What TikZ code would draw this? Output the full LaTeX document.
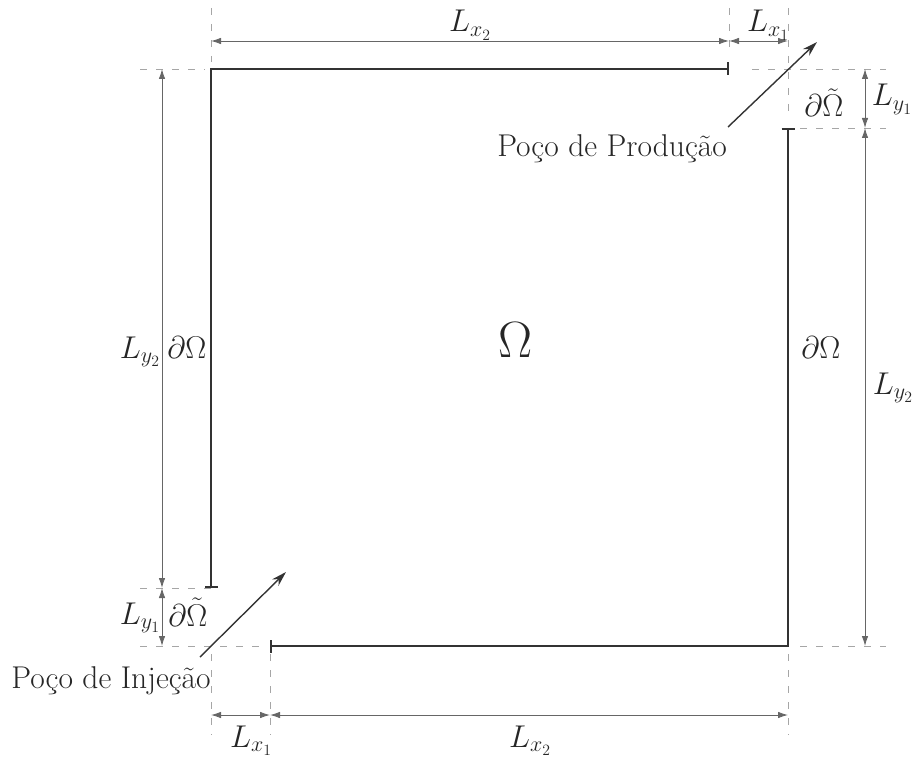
\RequirePackage{fix-cm}
\documentclass[tikz,border=0pt]{standalone}
\usepackage{fontspec}
\usetikzlibrary{arrows.meta}
\begin{document}
\begin{tikzpicture}[x=1pt,y=-1pt,
  wall/.style={line width=2.2pt, draw=black!80, {Bar[width=13pt,line width=1.6pt]}-{Bar[width=13pt,line width=1.6pt]}},
  dimline/.style={line width=0.9pt, draw=black!60, {Latex[length=10pt,width=6.5pt]}-{Latex[length=10pt,width=6.5pt]}},
  guide/.style={line width=0.9pt, draw=black!35, dash pattern=on 7pt off 9pt},
  lbl/.style={inner sep=0pt, anchor=base, text=black!85, font=\fontsize{31.5}{38}\selectfont},
  well/.style={line width=1.4pt, draw=black!80, -{Stealth[length=15pt,width=9pt]}}]
\useasboundingbox (0,0) rectangle (913,757);

% domain corners
\coordinate (TL) at (211,69);
\coordinate (TE) at (729,69);
\coordinate (RS) at (788,128);
\coordinate (BR) at (788,646);
\coordinate (BS) at (270,646);
\coordinate (LE) at (211,588);

% walls
\draw[wall] (LE) -- (TL) -- (TE);
\draw[wall] (RS) -- (BR) -- (BS);

% guide lines
\coordinate (gt1a) at (211,8);   \coordinate (gt1b) at (211,62);
\coordinate (gt2a) at (729,8);   \coordinate (gt2b) at (729,48);
\coordinate (gt3a) at (788,8);   \coordinate (gt3b) at (788,120);
\coordinate (gr1a) at (752,69);  \coordinate (gr1b) at (886,69);
\coordinate (gr2a) at (800,128); \coordinate (gr2b) at (886,128);
\coordinate (gr3a) at (800,646); \coordinate (gr3b) at (886,646);
\coordinate (gl1a) at (140,69);  \coordinate (gl1b) at (205,69);
\coordinate (gl2a) at (140,588); \coordinate (gl2b) at (216,588);
\coordinate (gl3a) at (140,646); \coordinate (gl3b) at (262,646);
\coordinate (gb1a) at (211,654); \coordinate (gb1b) at (211,735);
\coordinate (gb2a) at (270,654); \coordinate (gb2b) at (270,735);
\coordinate (gb3a) at (788,654); \coordinate (gb3b) at (788,735);
\foreach \g in {gt1,gt2,gt3,gr1,gr2,gr3,gl1,gl2,gl3,gb1,gb2,gb3}
  \draw[guide] (\g a) -- (\g b);

% dimension lines
\coordinate (dt1) at (211,41); \coordinate (dt2) at (729,41); \coordinate (dt3) at (788,41);
\coordinate (dr1) at (865,69); \coordinate (dr2) at (865,128); \coordinate (dr3) at (865,646);
\coordinate (dl1) at (162,69); \coordinate (dl2) at (162,588); \coordinate (dl3) at (162,646);
\coordinate (db1) at (211,715); \coordinate (db2) at (270,715); \coordinate (db3) at (788,715);
\draw[dimline] (dt1) -- (dt2);
\draw[dimline] (dt2) -- (dt3);
\draw[dimline] (dr1) -- (dr2);
\draw[dimline] (dr2) -- (dr3);
\draw[dimline] (dl1) -- (dl2);
\draw[dimline] (dl2) -- (dl3);
\draw[dimline] (db1) -- (db2);
\draw[dimline] (db2) -- (db3);

% labels
\node[lbl] (lx2t) at (470,32) {$L_{x_2}$};
\node[lbl] (lx1t) at (768,32) {$L_{x_1}$};
\node[lbl] (ly1r) at (892,106) {$L_{y_1}$};
\node[lbl] (ly2r) at (893,394) {$L_{y_2}$};
\node[lbl] (dotr) at (824,117) {$\partial\tilde{\Omega}$};
\node[lbl] (dor) at (821,358) {$\partial\Omega$};
\node[lbl, font=\fontsize{51}{60}\selectfont] (om) at (516,357) {$\Omega$};
\node[lbl] (ly2l) at (140,358) {$L_{y_2}$};
\node[lbl] (dol) at (187,358) {$\partial\Omega$};
\node[lbl] (ly1l) at (140,624) {$L_{y_1}$};
\node[lbl] (dotl) at (188,626) {$\partial\tilde{\Omega}$};
\node[lbl] (lx1b) at (251,747) {$L_{x_1}$};
\node[lbl] (lx2b) at (530,747) {$L_{x_2}$};
\node[lbl] (prod) at (612,157) {Poço de Produção};
\node[lbl] (inj) at (111,688) {Poço de Injeção};

% wells
\coordinate (pa) at (728,127); \coordinate (pb) at (817,42);
\coordinate (ia) at (200,657); \coordinate (ib) at (286,572);
\draw[well] (pa) -- (pb);
\draw[well] (ia) -- (ib);
\end{tikzpicture}
\end{document}
